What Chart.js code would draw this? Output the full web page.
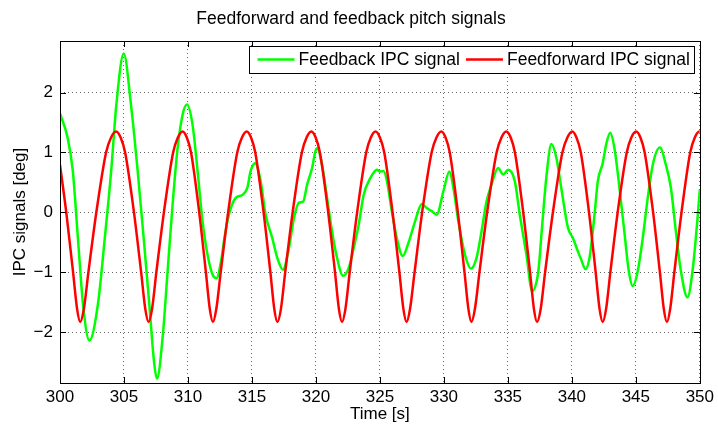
<!DOCTYPE html>
<html>
<head>
<meta charset="utf-8">
<script src="https://cdn.jsdelivr.net/npm/chart.js@4.4.1/dist/chart.umd.min.js"></script>
<style>
  html, body { margin: 0; padding: 0; background: #fff; }
  #wrap { width: 718px; height: 426px; }
</style>
</head>
<body>
<div id="wrap"><canvas id="c" width="718" height="426"></canvas></div>
<script>
// ---- Data ----
const chartTitle = "Feedforward and feedback pitch signals";
const xAxisLabel = "Time [s]";
const yAxisLabel = "IPC signals [deg]";
const seriesNames = ["Feedback IPC signal", "Feedforward IPC signal"];

const xTickValues = [300, 305, 310, 315, 320, 325, 330, 335, 340, 345, 350];
const yTickValues = [-2, -1, 0, 1, 2];

// Feedback IPC signal (green)
const fbTime = [
  300.0, 300.6, 301.0, 301.4, 301.8, 302.3, 302.96, 303.5, 304.0, 304.4,
  304.98, 305.55, 306.07, 306.54, 306.98, 307.37, 307.58, 308.02, 308.41, 308.8,
  309.19, 309.58, 309.92, 310.36, 310.75, 311.14, 311.53, 311.92, 312.23, 312.6,
  312.85, 313.2, 313.73, 314.25, 314.64, 314.9, 315.24, 315.68, 316.07, 316.59,
  316.98, 317.42, 317.89, 318.28, 318.67, 319.0, 319.31, 319.7, 319.96, 320.09,
  320.48, 320.87, 321.26, 321.65, 322.12, 322.56, 322.95, 323.34, 323.73, 324.25,
  324.77, 325.02, 325.29, 325.55, 325.93, 326.32, 326.79, 327.23, 327.75, 328.27,
  328.66, 329.05, 329.44, 329.96, 330.43, 330.74, 331.13, 331.65, 332.11, 332.55,
  332.94, 333.33, 333.72, 334.24, 334.63, 335.02, 335.54, 335.93, 336.45, 336.9,
  337.25, 337.4, 337.65, 338.0, 338.4, 338.79, 339.17, 339.7, 340.08, 340.47,
  340.73, 341.07, 341.38, 341.77, 342.03, 342.41, 342.68, 342.99, 343.33, 343.72,
  344.1, 344.45, 344.76, 345.15, 345.54, 345.93, 346.32, 346.88, 347.35, 347.74,
  348.13, 348.52, 349.04, 349.43, 349.82, 350.0
];
const fbValue = [
  1.65, 1.24, 0.69, -0.43, -1.54, -2.14, -1.54, -0.43, 0.69, 1.79,
  2.65, 1.79, 0.69, -0.43, -1.54, -2.54, -2.78, -2.09, -0.98, 0.13,
  1.07, 1.63, 1.80, 1.46, 0.69, -0.15, -0.71, -1.04, -1.10, -0.80,
  -0.43, -0.04, 0.24, 0.29, 0.41, 0.69, 0.82, 0.52, -0.04, -0.43,
  -0.76, -0.96, -0.60, -0.10, 0.16, 0.18, 0.46, 0.74, 1.02, 1.07,
  0.79, 0.24, -0.32, -0.76, -1.06, -0.93, -0.60, -0.21, 0.29, 0.57,
  0.71, 0.68, 0.69, 0.52, 0.02, -0.43, -0.73, -0.51, -0.15, 0.14,
  0.07, 0.02, -0.04, 0.35, 0.68, 0.41, -0.15, -0.71, -0.94, -0.76,
  -0.32, 0.18, 0.46, 0.74, 0.63, 0.71, 0.52, -0.04, -0.71, -1.32,
  -1.15, -0.95, -0.30, 0.57, 1.14, 0.91, 0.41, -0.26, -0.43, -0.65,
  -0.79, -0.95, -0.76, -0.04, 0.52, 0.82, 1.13, 1.33, 1.07, 0.41,
  -0.32, -0.98, -1.23, -0.98, -0.43, 0.24, 0.79, 1.08, 0.79, 0.41,
  -0.32, -0.98, -1.42, -0.98, -0.10, 0.38
];

// Feedforward IPC signal (red)
const ffTime = [
  300.0, 300.49, 301.02, 301.34, 301.58,
  301.86, 302.22, 302.84, 303.6, 303.99, 304.38,
  304.74, 305.09, 305.78, 306.34, 306.67, 306.92,
  307.19, 307.53, 308.12, 308.84, 309.21, 309.58,
  309.91, 310.24, 310.88, 311.4, 311.71, 311.95,
  312.21, 312.56, 313.14, 313.85, 314.22, 314.59,
  314.93, 315.26, 315.91, 316.44, 316.75, 316.99,
  317.26, 317.6, 318.18, 318.9, 319.27, 319.64,
  319.98, 320.31, 320.96, 321.49, 321.8, 322.04,
  322.3, 322.64, 323.22, 323.93, 324.29, 324.66,
  325.0, 325.34, 325.99, 326.52, 326.84, 327.08,
  327.35, 327.71, 328.3, 329.04, 329.42, 329.8,
  330.13, 330.46, 331.09, 331.61, 331.92, 332.15,
  332.42, 332.78, 333.38, 334.12, 334.5, 334.88,
  335.22, 335.55, 336.2, 336.73, 337.04, 337.28,
  337.56, 337.91, 338.52, 339.26, 339.65, 340.03,
  340.36, 340.7, 341.34, 341.86, 342.17, 342.41,
  342.67, 343.01, 343.58, 344.29, 344.65, 345.02,
  345.36, 345.69, 346.35, 346.88, 347.19, 347.43,
  347.68, 348.01, 348.57, 349.25, 349.61, 349.96, 350.0
];
const ffValue = [
  0.79, 0.0, -1.0, -1.62, -1.83,
  -1.62, -1.0, 0.0, 1.0, 1.25, 1.35,
  1.25, 1.0, 0.0, -1.0, -1.62, -1.83,
  -1.62, -1.0, 0.0, 1.0, 1.25, 1.35,
  1.25, 1.0, 0.0, -1.0, -1.62, -1.83,
  -1.62, -1.0, 0.0, 1.0, 1.25, 1.35,
  1.25, 1.0, 0.0, -1.0, -1.62, -1.83,
  -1.62, -1.0, 0.0, 1.0, 1.25, 1.35,
  1.25, 1.0, 0.0, -1.0, -1.62, -1.83,
  -1.62, -1.0, 0.0, 1.0, 1.25, 1.35,
  1.25, 1.0, 0.0, -1.0, -1.62, -1.83,
  -1.62, -1.0, 0.0, 1.0, 1.25, 1.35,
  1.25, 1.0, 0.0, -1.0, -1.62, -1.83,
  -1.62, -1.0, 0.0, 1.0, 1.25, 1.35,
  1.25, 1.0, 0.0, -1.0, -1.62, -1.83,
  -1.62, -1.0, 0.0, 1.0, 1.25, 1.35,
  1.25, 1.0, 0.0, -1.0, -1.62, -1.83,
  -1.62, -1.0, 0.0, 1.0, 1.25, 1.35,
  1.25, 1.0, 0.0, -1.0, -1.62, -1.83,
  -1.62, -1.0, 0.0, 1.0, 1.25, 1.35, 1.35
];

const xRange = [300, 350];
const yRange = [-2.85, 2.86];

// ---- Chart ----
const FONT = "'Liberation Sans', Arial, Helvetica, sans-serif";
const FS = 17;
const FS_BIG = 17.5;
const toPoints = (xs, ys) => xs.map((x, i) => ({ x: x, y: ys[i] }));

const boxTicksPlugin = {
  id: 'boxTicks',
  afterDatasetsDraw(chart) {
    const { ctx, chartArea: a, scales } = chart;
    ctx.save();
    ctx.strokeStyle = '#000';
    ctx.lineWidth = 1;
    const tl = 6;
    ctx.beginPath();
    scales.x.ticks.forEach(t => {
      const px = Math.round(scales.x.getPixelForValue(t.value)) + 0.5;
      ctx.moveTo(px, a.bottom); ctx.lineTo(px, a.bottom - tl);
      ctx.moveTo(px, a.top); ctx.lineTo(px, a.top + tl);
    });
    scales.y.ticks.forEach(t => {
      const py = Math.round(scales.y.getPixelForValue(t.value)) + 0.5;
      ctx.moveTo(a.left, py); ctx.lineTo(a.left + tl, py);
      ctx.moveTo(a.right, py); ctx.lineTo(a.right - tl, py);
    });
    ctx.stroke();
    ctx.strokeRect(Math.round(a.left) + 0.5, Math.round(a.top) + 0.5,
                   Math.round(a.right - a.left), Math.round(a.bottom - a.top));

    // legend box (top right, inside axes)
    ctx.font = FS_BIG + 'px ' + FONT;
    ctx.textBaseline = 'middle';
    ctx.textAlign = 'left';
    const ds = chart.data.datasets.slice().sort((p, q) => p.legendIndex - q.legendIndex);
    const lineLen = 37, padL = 8, gapLT = 4, gapItem = 6, padR = 5;
    let w = padL;
    ds.forEach((d, i) => {
      w += lineLen + gapLT + ctx.measureText(d.label).width;
      w += (i < ds.length - 1) ? gapItem : padR;
    });
    const h = 27;
    const right = a.right - 5, top = a.top + 5;
    const left = right - w;
    ctx.fillStyle = '#fff';
    ctx.fillRect(left, top, w, h);
    ctx.strokeStyle = '#000';
    ctx.strokeRect(Math.round(left) + 0.5, Math.round(top) + 0.5, Math.round(w), h);
    let x = left + padL;
    const cy = top + h / 2;
    ds.forEach((d, i) => {
      ctx.strokeStyle = d.borderColor;
      ctx.lineWidth = d.borderWidth;
      ctx.beginPath();
      ctx.moveTo(x, cy); ctx.lineTo(x + lineLen, cy);
      ctx.stroke();
      x += lineLen + gapLT;
      ctx.fillStyle = '#000';
      ctx.fillText(d.label, x, cy + 0.5);
      x += ctx.measureText(d.label).width + gapItem;
    });
    ctx.restore();
  }
};

new Chart(document.getElementById('c'), {
  type: 'line',
  data: {
    datasets: [
      {
        label: seriesNames[0],
        legendIndex: 0,
        data: toPoints(fbTime, fbValue),
        borderColor: '#00ff00',
        borderWidth: 2.5,
        pointRadius: 0,
        cubicInterpolationMode: 'monotone',
        fill: false,
        order: 1
      },
      {
        label: seriesNames[1],
        legendIndex: 1,
        data: toPoints(ffTime, ffValue),
        borderColor: '#ff0000',
        borderWidth: 2.5,
        pointRadius: 0,
        cubicInterpolationMode: 'monotone',
        fill: false,
        order: 0
      }
    ]
  },
  options: {
    responsive: false,
    animation: false,
    devicePixelRatio: 1,
    layout: { padding: { left: 0, right: 16, top: 0, bottom: 0 } },
    plugins: {
      legend: { display: false },
      tooltip: { enabled: false },
      title: {
        display: true,
        text: chartTitle,
        color: '#000',
        font: { family: FONT, size: FS_BIG, weight: 'normal' },
        padding: { top: 8.5, bottom: 11.5 }
      }
    },
    scales: {
      x: {
        type: 'linear',
        min: xRange[0],
        max: xRange[1],
        afterFit: s => { s.height = 43; },
        afterBuildTicks: s => { s.ticks = xTickValues.map(v => ({ value: v })); },
        ticks: {
          color: '#000',
          font: { family: FONT, size: FS },
          padding: 4,
          maxRotation: 0,
          includeBounds: false
        },
        grid: { color: 'rgba(0,0,0,0.6)', lineWidth: 1, drawTicks: false },
        border: { display: false, dash: [1, 3] },
        title: {
          display: true,
          text: xAxisLabel,
          color: '#000',
          font: { family: FONT, size: FS },
          padding: { top: 0, bottom: 1 }
        }
      },
      y: {
        type: 'linear',
        min: yRange[0],
        max: yRange[1],
        afterFit: s => { s.width = 60; },
        afterBuildTicks: s => { s.ticks = yTickValues.map(v => ({ value: v })); },
        ticks: {
          color: '#000',
          font: { family: FONT, size: FS },
          padding: 7,
          includeBounds: false,
          callback: v => (v < 0 ? '\u2212' + Math.abs(v) : String(v))
        },
        grid: { color: 'rgba(0,0,0,0.6)', lineWidth: 1, drawTicks: false },
        border: { display: false, dash: [1, 3] },
        title: {
          display: true,
          text: yAxisLabel,
          color: '#000',
          font: { family: FONT, size: FS },
          padding: { top: 10, bottom: 0 }
        }
      }
    }
  },
  plugins: [boxTicksPlugin]
});
</script>
</body>
</html>
